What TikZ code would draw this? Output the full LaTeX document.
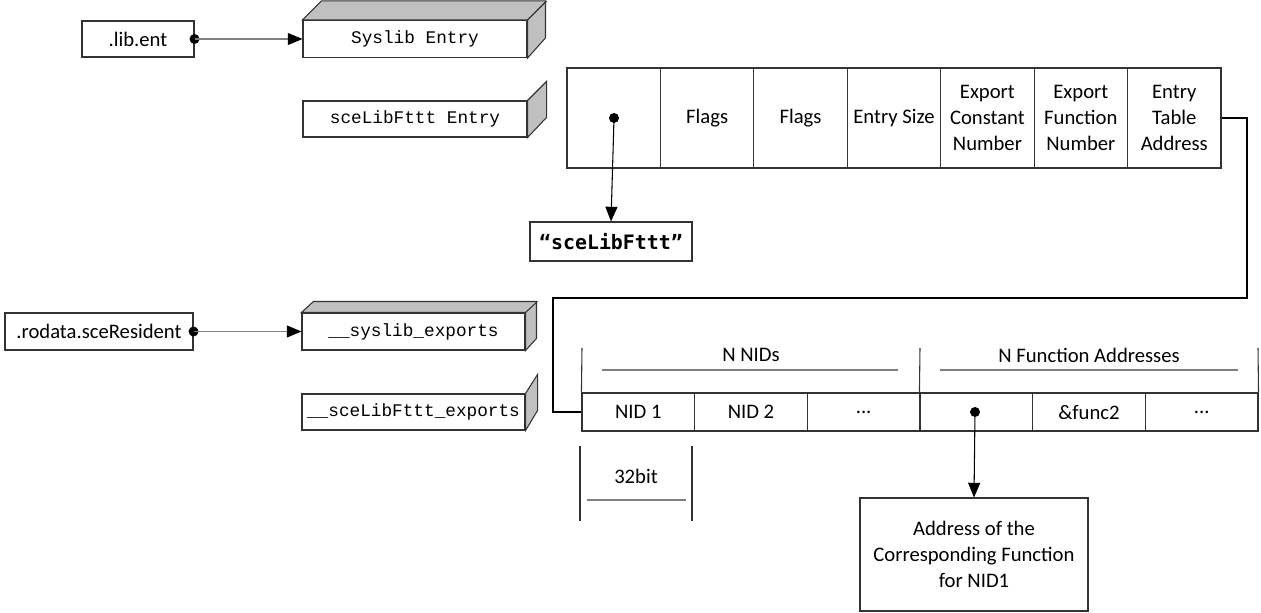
\documentclass[tikz,border=0pt]{standalone}
\usepackage{fontspec}
\setmainfont{Carlito}
\newfontfamily\slabfont{Liberation Mono}
\newfontfamily\strfont{DejaVu Sans Mono}
\usetikzlibrary{arrows.meta}

\definecolor{facegray}{HTML}{C0C0C0}
\definecolor{linegray}{HTML}{7F7F7F}
\newcommand{\moredots}{.{}.{}.}

\tikzset{
  box/.style={draw=black!80,line width=0.8pt,inner sep=0pt,align=center},
  slab/.style={box,font=\slabfont\fontsize{13.3}{16}\selectfont},
  cell/.style={box,minimum width=70.07pt,minimum height=75pt,font=\fontsize{15.5}{19.2}\selectfont},
  nidcell/.style={box,minimum width=84.5pt,minimum height=28.5pt,font=\fontsize{15.5}{19.2}\selectfont},
  dot/.style={circle,fill=black,inner sep=0pt,minimum size=7.5pt},
  ptr/.style={line width=0.8pt,-{Triangle[length=11pt,width=9pt,color=black]}},
  link/.style={line width=1.5pt},
  brace/.style={draw=black!80,line width=0.8pt},
  uline/.style={draw=linegray,line width=1.5pt}
}

\begin{document}
\begin{tikzpicture}[x=0.75pt,y=-0.75pt]
\useasboundingbox (0,0) rectangle (1261,613);

% sections on the left
\node[box,minimum width=84pt,minimum height=27pt,font=\fontsize{15.5}{19}\selectfont] (libent) at (138,39) {.lib.ent};
\node[box,minimum width=141pt,minimum height=27.75pt,font=\fontsize{15.5}{19}\selectfont] (rodata) at (99,331.5) {.rodata.sceResident};

% 3d entries
\node[slab,minimum width=168pt,minimum height=27.75pt] (sysent) at (415,39) {Syslib Entry};
\filldraw[fill=facegray,draw=black!80,line width=0.8pt] (sysent.north west) -- ++(19,-19) -- ++(224,0) -- ++(0,37) -- (sysent.south east) -- (sysent.north east) -- cycle;
\draw[black!80,line width=0.8pt] (sysent.north east) -- ++(19,-19);

\node[slab,minimum width=168pt,minimum height=27pt] (libfent) at (415,119) {sceLibFttt Entry};
\filldraw[fill=facegray,draw=black!80,line width=0.8pt] (libfent.north east) -- ++(19,-19) -- ++(0,36) -- (libfent.south east) -- cycle;

\node[slab,minimum width=167.25pt,minimum height=27.75pt] (sysexp) at (413.5,331.5) {\_\_syslib\_exports};
\filldraw[fill=facegray,draw=black!80,line width=0.8pt] (sysexp.north west) -- ++(12,-11) -- ++(223,0) -- ++(0,37) -- (sysexp.south east) -- (sysexp.north east) -- cycle;
\draw[black!80,line width=0.8pt] (sysexp.north east) -- ++(12,-11);

\node[slab,minimum width=167.25pt,minimum height=27pt] (libfexp) at (413.5,412) {\_\_sceLibFttt\_exports};
\filldraw[fill=facegray,draw=black!80,line width=0.8pt] (libfexp.north east) -- ++(12,-19) -- ++(0,36) -- (libfexp.south east) -- cycle;

\node[dot] (d1) at (libent.east) {};
\node[dot] (d2) at (rodata.east) {};
\draw[ptr,draw=linegray] (d1.center) -- (sysent.west);
\draw[ptr,draw=linegray] (d2.center) -- (sysexp.west);

% entry table
\foreach \i/\t in {0/{},1/Flags,2/Flags,3/Entry Size,4/{Export\\Constant\\Number},5/{Export\\Function\\Number},6/{Entry\\Table\\Address}}
  \node[cell] (e\i) at ({613.7+93.43*\i},118) {\t};
\node[dot] (p0) at (614,118) {};
\node[box,minimum width=121.5pt,minimum height=29.25pt,font=\strfont\bfseries\fontsize{14.9}{18}\selectfont] (libname) at (611,241.5) {“sceLibFttt”};
\draw[ptr] (p0.center) -- (libname.north);

% exports table
\foreach \i/\t in {1/NID 1,2/NID 2,3/\moredots,4/{},5/\&func2,6/\moredots}
  \node[nidcell] (n\i) at ({638.3+112.67*(\i-1)},412) {\t};
\draw[brace] (582,348) -- (n1.north west);
\draw[brace] (920,348) -- (n4.north west);
\draw[brace] (1258,348) -- (n6.north east);
\node[font=\fontsize{15.5}{19}\selectfont] (nids) at (751,355) {N NIDs};
\node[font=\fontsize{15.5}{19}\selectfont] (faddr) at (1089,355) {N Function Addresses};
\draw[uline] (602,370) -- (898,370);
\draw[uline] (940,370) -- (1238,370);

\coordinate (bend1) at (1247,298);
\coordinate (bend2) at (553,298);
\draw[link] (e6.east) -| (bend1) -- (bend2) |- (n1.west);

% 32bit width
\draw[brace] (580,446) -- (580,521);
\draw[brace] (692,446) -- (692,521);
\node[font=\fontsize{15.5}{19}\selectfont] (width) at (636,476) {32bit};
\draw[uline] (587,500) -- (686,500);

\node[dot] (p1) at (975,412) {};
\node[box,minimum width=171pt,minimum height=84.75pt,font=\fontsize{15.5}{19.5}\selectfont] (target) at (974,554.5) {Address of the\\Corresponding Function\\for NID1};
\draw[ptr] (p1.center) -- (target.north);

\end{tikzpicture}
\end{document}
